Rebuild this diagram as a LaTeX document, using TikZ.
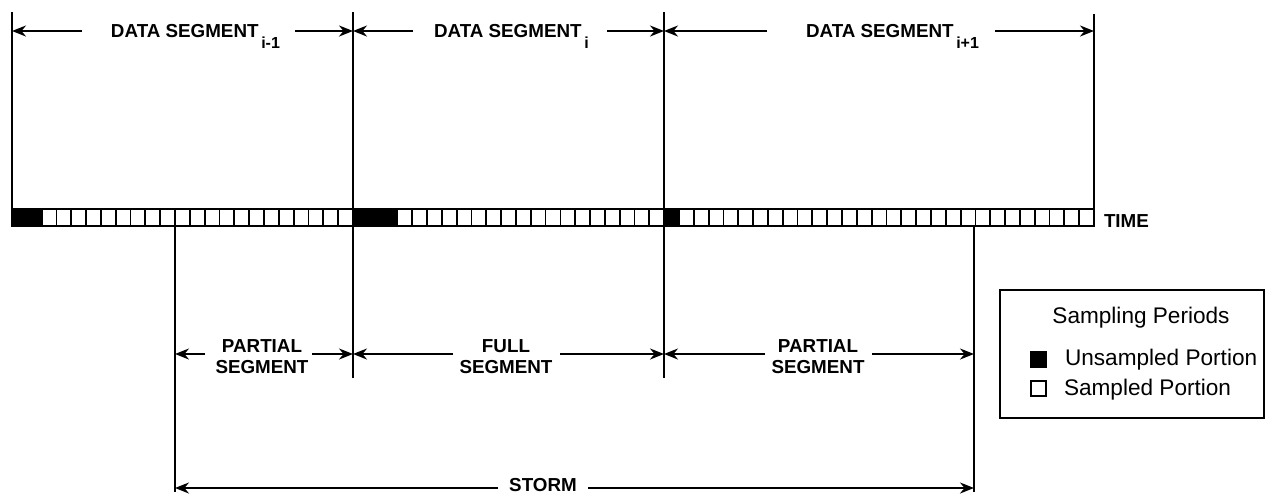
\documentclass[tikz,border=0pt]{standalone}
\usepackage{fontspec}
\setmainfont{Liberation Sans}
\usetikzlibrary{arrows.meta}
\begin{document}
\begin{tikzpicture}[x=0.5pt,y=-0.5pt, line width=1pt,
  arr/.style={-{Stealth[length=7pt,width=5.5pt]}, line width=1pt},
  lbl/.style={font=\bfseries\fontsize{9.4}{10.5}\selectfont, inner sep=0pt, align=center},
  leg/.style={font=\fontsize{11.3}{12}\selectfont, inner sep=0pt},
  vline/.style={line width=1.1pt}]
\useasboundingbox (0,0) rectangle (1266,494);
% sampling cells
\foreach \i in {0,...,72}{
  \pgfmathsetmacro{\xa}{12+\i*14.8219}
  \pgfmathsetmacro{\xb}{12+(\i+1)*14.8219}
  \pgfmathtruncatemacro{\blk}{(\i<2)||((\i>22)&&(\i<26))||(\i==44)}
  \ifnum\blk=1 \def\cf{black}\else\def\cf{white}\fi
  \draw[fill=\cf, line width=0.9pt] (\xa,209) rectangle (\xb,226);
}
\draw[line width=1.3pt] (12,209) rectangle (1094,226);
\node[lbl, anchor=west] (time) at (1103,221) {TIME};
% vertical lines
\coordinate (v0t) at (12,12);   \coordinate (v0b) at (12,226);
\coordinate (v1t) at (353,12);  \coordinate (v1b) at (353,378);
\coordinate (v2t) at (664,12);  \coordinate (v2b) at (664,378);
\coordinate (v3t) at (1094,14); \coordinate (v3b) at (1094,209);
\coordinate (s1t) at (175,226); \coordinate (s1b) at (175,492);
\coordinate (s2t) at (974,226); \coordinate (s2b) at (974,492);
\foreach \a in {v0,v1,v2,v3,s1,s2}{\draw[vline] (\a t) -- (\a b);}
% top labels
\node[lbl, anchor=base west] (d1) at (110,37) {DATA SEGMENT\raisebox{-5.5pt}{\fontsize{8}{8}\selectfont\,i-1}};
\node[lbl, anchor=base west] (d2) at (433,37) {DATA SEGMENT\raisebox{-5.5pt}{\fontsize{8}{8}\selectfont\,i}};
\node[lbl, anchor=base west] (d3) at (805,37) {DATA SEGMENT\raisebox{-5.5pt}{\fontsize{8}{8}\selectfont\,i+1}};
\coordinate (a1) at (82,31);  \coordinate (a2) at (295,31);
\coordinate (a3) at (413,31); \coordinate (a4) at (607,31);
\coordinate (a5) at (767,31); \coordinate (a6) at (995,31);
\draw[arr] (a1) -- (v0t |- a1);
\draw[arr] (a2) -- (v1t |- a2);
\draw[arr] (a3) -- (v1t |- a3);
\draw[arr] (a4) -- (v2t |- a4);
\draw[arr] (a5) -- (v2t |- a5);
\draw[arr] (a6) -- (v3t |- a6);
% middle labels
\node[lbl] (p1) at (262,357) {PARTIAL\\SEGMENT};
\node[lbl] (fs) at (506,357) {FULL\\SEGMENT};
\node[lbl] (p2) at (818,357) {PARTIAL\\SEGMENT};
\coordinate (b1) at (205,354); \coordinate (b2) at (312,354);
\coordinate (b3) at (453,354); \coordinate (b4) at (560,354);
\coordinate (b5) at (765,354); \coordinate (b6) at (872,354);
\draw[arr] (b1) -- (s1t |- b1);
\draw[arr] (b2) -- (v1t |- b2);
\draw[arr] (b3) -- (v1t |- b3);
\draw[arr] (b4) -- (v2t |- b4);
\draw[arr] (b5) -- (v2t |- b5);
\draw[arr] (b6) -- (s2t |- b6);
% storm
\node[lbl] (st) at (543,485) {STORM};
\coordinate (c1) at (498,488); \coordinate (c2) at (588,488);
\draw[arr] (c1) -- (s1t |- c1);
\draw[arr] (c2) -- (s2t |- c2);
% legend
\draw[line width=1.2pt] (1000,290) rectangle (1264,418);
\node[leg] (lt) at (1141,318) {Sampling Periods};
\draw[fill=black, line width=0.9pt] (1031,352) rectangle (1046,367);
\draw[fill=white, line width=0.9pt] (1031,381) rectangle (1046,396);
\node[leg, anchor=west] (lu) at (1064,360) {Unsampled Portion};
\node[leg, anchor=west] (ls) at (1063,390) {Sampled Portion};
\end{tikzpicture}
\end{document}
